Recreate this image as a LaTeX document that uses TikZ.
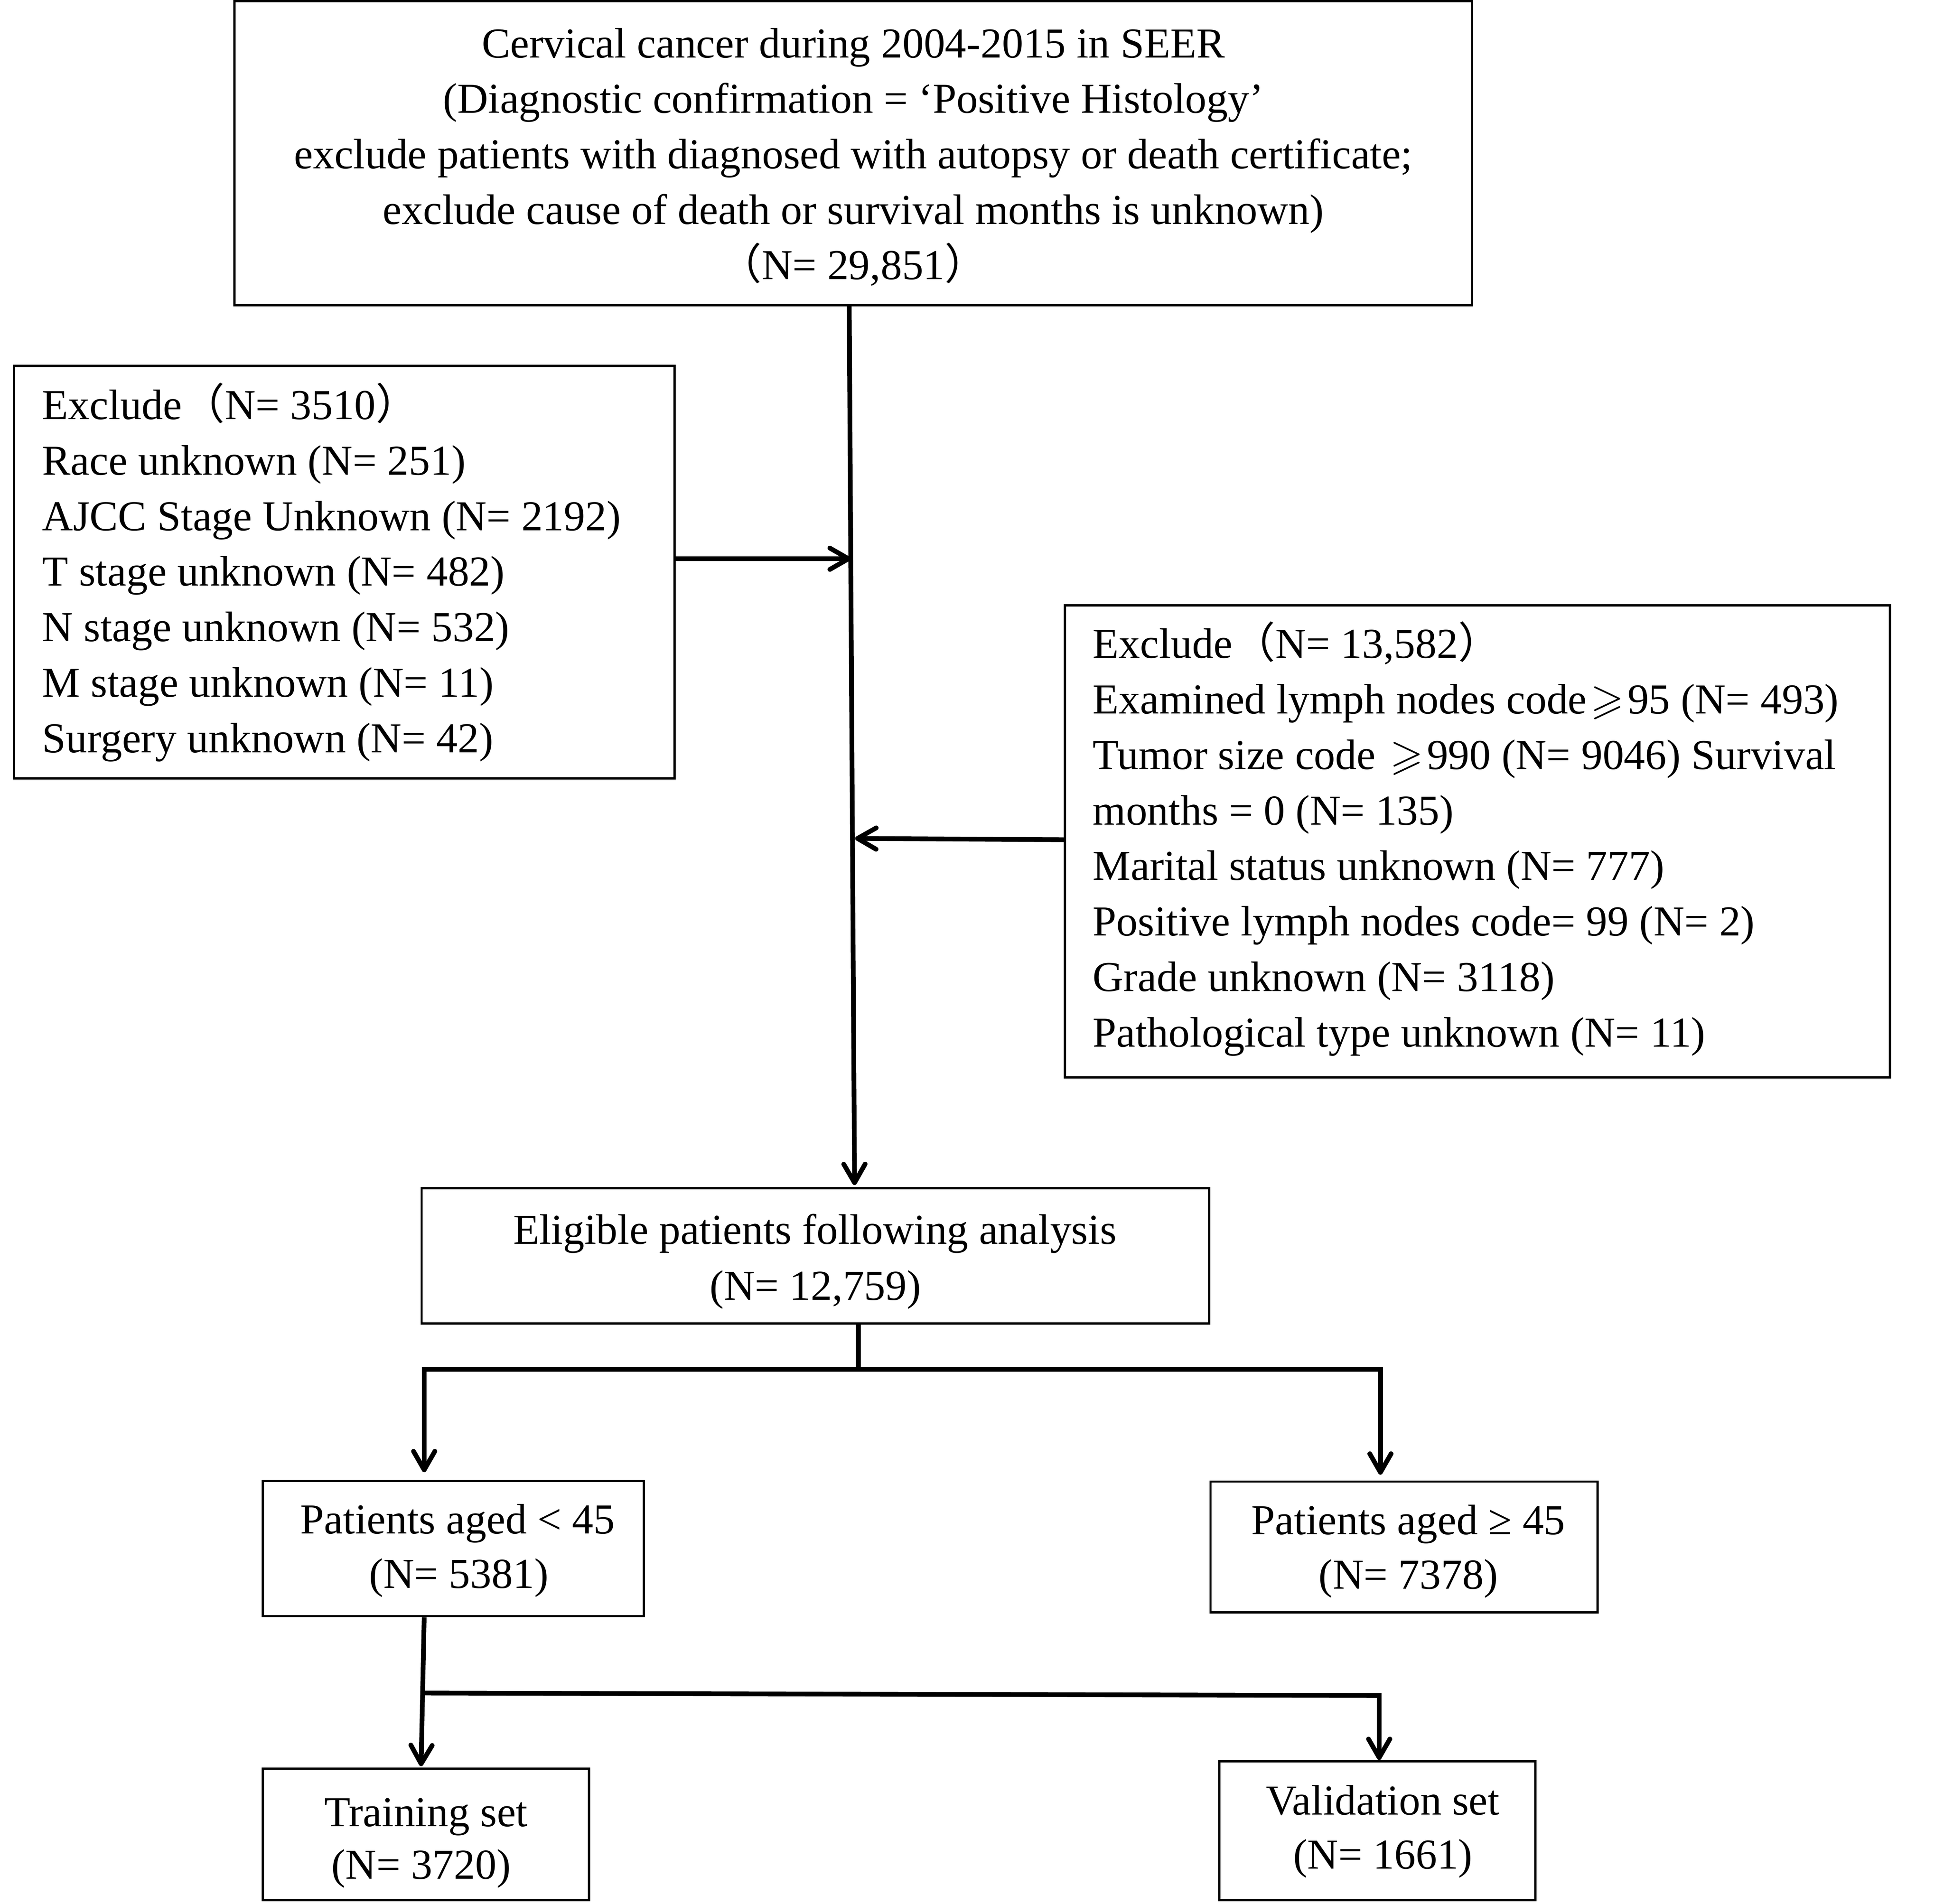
\documentclass[tikz,border=0pt]{standalone}
\usepackage{amssymb}
\usepackage{fontspec}
\setmainfont{Liberation Serif}
\newfontfamily\cjkfont{Noto Sans CJK SC}
\usetikzlibrary{arrows.meta,fit}
\newcommand{\fwlp}{{\cjkfont （}}
\newcommand{\fwrp}{{\cjkfont ）}}
\newcommand{\sgeq}{\kern1.5pt$\geqslant$\kern1.5pt}
\begin{document}
\begin{tikzpicture}[x=0.5pt,y=-0.5pt,
  box/.style={draw,line width=0.9pt,inner sep=0pt},
  conn/.style={line width=1.9pt},
  arr/.style={-{Straight Barb[length=7.5pt,width=8.6pt,round]}},
  txt/.style={inner sep=0pt,font=\fontsize{17.2}{22}\selectfont}]
\useasboundingbox (0,0) rectangle (1567.4,1534.9);
% boxes
\node[box,fit={(189,1) (1187,246)}] (top) {};
\node[box,fit={(11.2,295) (543.8,627.5)}] (exl) {};
\node[box,fit={(858.7,488) (1523.8,868.6)}] (exr) {};
\node[box,fit={(340,958) (975,1067)}] (elig) {};
\node[box,fit={(212,1194) (519,1303)}] (young) {};
\node[box,fit={(976,1194.5) (1288,1300)}] (old) {};
\node[box,fit={(212,1426) (475,1532)}] (train) {};
\node[box,fit={(983,1420) (1238,1532)}] (valid) {};
% texts
\foreach \t [count=\i from 0] in {{Cervical cancer during 2004-2015 in SEER},{(Diagnostic confirmation = ‘Positive Histology’},{exclude patients with diagnosed with autopsy or death certificate;},{exclude cause of death or survival months is unknown)},{\fwlp N= 29,851\fwrp}}
  \node[txt,anchor=base] (tt\i) at ({688},{46.5+44.7*\i}) {\t};
\foreach \t [count=\i from 0] in {{Exclude\fwlp N= 3510\fwrp},{Race unknown (N= 251)},{AJCC Stage Unknown (N= 2192)},{T stage unknown (N= 482)},{N stage unknown (N= 532)},{M stage unknown (N= 11)},{Surgery unknown (N= 42)}}
  \node[txt,anchor=base west] (lt\i) at ({33.7},{338+44.8*\i}) {\t};
\foreach \t [count=\i from 0] in {{Exclude\fwlp N= 13,582\fwrp},{Examined lymph nodes code\sgeq 95 (N= 493)},{Tumor size code \sgeq 990 (N= 9046) Survival},{months = 0 (N= 135)},{Marital status unknown (N= 777)},{Positive lymph nodes code= 99 (N= 2)},{Grade unknown (N= 3118)},{Pathological type unknown (N= 11)}}
  \node[txt,anchor=base west] (rt\i) at ({880.7},{530.5+44.8*\i}) {\t};
\node[txt,anchor=base] (el1) at (657,1003) {Eligible patients following analysis};
\node[txt,anchor=base] (el2) at (657.5,1048) {(N= 12,759)};
\node[txt,anchor=base] (yo1) at (369,1236.5) {Patients aged < 45};
\node[txt,anchor=base] (yo2) at (370,1280.5) {(N= 5381)};
\node[txt,anchor=base] (ol1) at (1135.5,1237) {Patients aged ≥ 45};
\node[txt,anchor=base] (ol2) at (1135.5,1281) {(N= 7378)};
\node[txt,anchor=base] (tr1) at (343.5,1472.6) {Training set};
\node[txt,anchor=base] (tr2) at (339.5,1515) {(N= 3720)};
\node[txt,anchor=base] (va1) at (1115,1463) {Validation set};
\node[txt,anchor=base] (va2) at (1115,1506.6) {(N= 1661)};
% junction coordinates
\coordinate (mtip) at (689,955.5);
\coordinate (j1) at (686,450.5);
\coordinate (j2) at (689.5,676);
\coordinate (s1) at (692,1104);
\coordinate (s1l) at (342,1104);
\coordinate (s1r) at (1113,1104);
\coordinate (yt) at (342,1187);
\coordinate (ot) at (1113,1189);
\coordinate (s2l) at (342,1365);
\coordinate (s2r) at (1112,1367);
\coordinate (trt) at (339.5,1424);
\coordinate (vat) at (1112,1419);
% connectors
\draw[conn,arr] (684.7,0 |- top.south) -- (mtip);
\draw[conn,arr] (exl.east |- j1) -- (j1);
\draw[conn,arr] (exr.west |- 0,677) -- (j2);
\draw[conn] (692,0 |- elig.south) -- (s1);
\draw[conn,arr] (s1) -- (s1l) -- (yt);
\draw[conn,arr] (s1) -- (s1r) -- (ot);
\draw[conn,arr] (342,0 |- young.south) -- (trt);
\draw[conn,arr] (s2l) -- (s2r) -- (vat);
\end{tikzpicture}
\end{document}
